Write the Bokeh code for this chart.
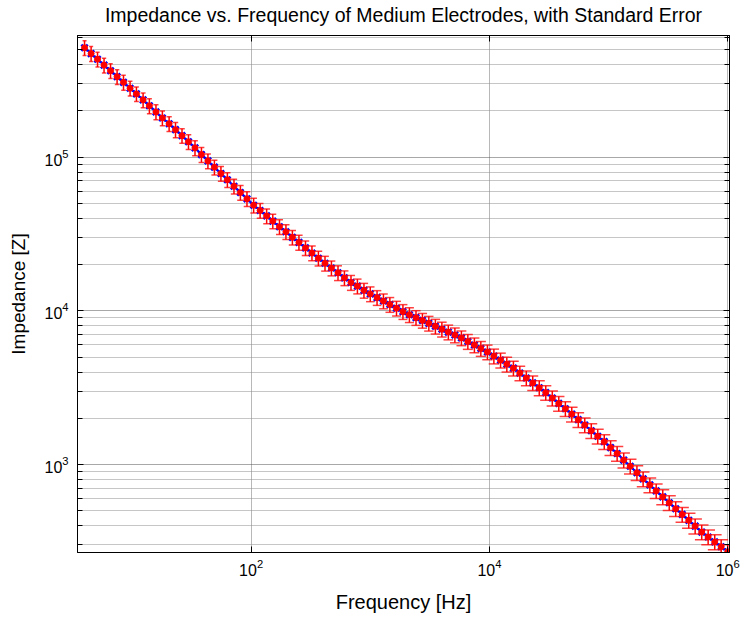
import numpy as np
from bokeh.plotting import figure
from bokeh.models import (FixedTicker, LogAxis, Range1d, ColumnDataSource,
                          CustomJSTickFormatter)
from bokeh.embed import file_html
from bokeh.resources import INLINE

# ---- data ----
freq_hz = [4.00, 4.54, 5.14, 5.83, 6.61, 7.50, 8.49, 9.64, 10.9, 12.4,
           14.0, 15.9, 18.0, 20.5, 23.2, 26.3, 29.8, 33.8, 38.3, 43.4,
           49.2, 55.8, 63.2, 71.8, 81.3, 92.3, 105, 119, 135, 152,
           173, 196, 222, 252, 286, 324, 367, 417, 472, 536,
           607, 689, 780, 885, 1000, 1140, 1290, 1460, 1660, 1880,
           2130, 2420, 2740, 3100, 3520, 3990, 4520, 5130, 5820, 6590,
           7480, 8470, 9620, 10900, 12400, 14000, 15900, 18000, 20400, 23100,
           26200, 29700, 33700, 38200, 43400, 49100, 55700, 63100, 71600, 81100,
           92000, 104000, 118000, 134000, 152000, 173000, 195000, 222000, 251000, 285000,
           323000, 366000, 415000, 471000, 533000, 605000, 685000, 778000, 881000, 1000000]

impedance = [515000, 472000, 434000, 397000, 365000, 334000, 307000, 281000, 258000, 236000,
             216000, 197000, 180000, 165000, 151000, 138000, 126000, 115000, 104000, 94600,
             86100, 78300, 71300, 64700, 58900, 53600, 48700, 45000, 41500, 38400,
             35300, 32700, 30100, 27900, 25700, 23800, 22000, 20400, 19000, 17700,
             16400, 15300, 14500, 13600, 12900, 12200, 11600, 11000, 10400, 9890,
             9440, 9040, 8670, 8300, 7940, 7600, 7280, 6970, 6670, 6320,
             6000, 5690, 5400, 5080, 4780, 4500, 4240, 3940, 3660, 3400,
             3160, 2940, 2710, 2500, 2310, 2130, 1960, 1810, 1660, 1530,
             1410, 1290, 1180, 1070, 975, 885, 807, 738, 675, 617,
             565, 516, 474, 434, 398, 364, 338, 314, 292, 271]

std_err = [57000, 52000, 48000, 44000, 40000, 37000, 34000, 31000, 28000, 26000,
           24000, 22000, 20000, 18000, 17000, 15000, 14000, 12700, 11500, 10400,
           9500, 8600, 7800, 7100, 6500, 5900, 5400, 5000, 4600, 4200,
           3900, 3600, 3300, 3100, 2800, 2600, 2400, 2250, 2100, 1950,
           1800, 1700, 1600, 1500, 1420, 1340, 1280, 1210, 1140, 1090,
           1040, 990, 950, 910, 870, 840, 800, 770, 730, 700,
           660, 630, 590, 560, 530, 500, 470, 430, 400, 370,
           350, 320, 300, 275, 254, 234, 216, 199, 183, 168,
           155, 142, 130, 118, 107, 97, 89, 81, 74, 68,
           62, 57, 52, 48, 44, 40, 37, 35, 32, 30]

x_major_ticks = [1e0, 1e2, 1e4, 1e6]
y_major_ticks = [1e2, 1e3, 1e4, 1e5, 1e6]
y_minor_ticks = [m * 10.0 ** e for e in range(2, 6) for m in range(2, 10)]

title_text = "Impedance vs. Frequency of Medium Electrodes, with Standard Error"
x_label = "Frequency [Hz]"
y_label = "Impedance [Z]"

# ---- derived drawing columns ----
f = np.array(freq_hz, dtype=float)
z = np.array(impedance, dtype=float)
e = np.array(std_err, dtype=float)
lf = np.log10(f)
cap_px = 2.0 + 5.0 * (lf - lf.min()) / (lf.max() - lf.min())   # cap half width in px
cap_dec = cap_px / 119.2                                          # px -> decades
src = ColumnDataSource(dict(f=f, z=z, lo=z - e, hi=z + e,
                            cl=f * 10 ** (-cap_dec), cr=f * 10 ** cap_dec))

FONT = "Liberation Sans"

p = figure(width=743, height=617, x_axis_type="log", y_axis_type="log",
           x_range=Range1d(3.49, 1.035e6), y_range=Range1d(268, 619000),
           output_backend="svg", toolbar_location=None,
           min_border_left=77, min_border_right=14, min_border_top=35,
           min_border_bottom=65)
p.background_fill_color = "white"
p.border_fill_color = "white"
p.outline_line_color = "black"
p.outline_line_width = 1

xt = FixedTicker(ticks=x_major_ticks, minor_ticks=[])
yt = FixedTicker(ticks=y_major_ticks, minor_ticks=y_minor_ticks)

for ax, tk in ((p.xaxis[0], xt), (p.yaxis[0], yt)):
    ax.ticker = tk
    ax.major_tick_in = 6
    ax.major_tick_out = 0
    ax.minor_tick_in = 5
    ax.minor_tick_out = 0
    ax.axis_line_color = "black"
    ax.major_tick_line_color = "black"
    ax.minor_tick_line_color = "black"
    ax.major_label_text_font = FONT
    ax.major_label_text_font_size = "16px"
    ax.major_label_text_color = "black"
    ax.axis_label_text_font = FONT
    ax.axis_label_text_font_style = "normal"
    ax.axis_label_text_color = "black"

p.xaxis[0].axis_label = x_label
p.xaxis[0].axis_label_text_font_size = "20px"
p.xaxis[0].major_label_standoff = 6
p.xaxis[0].axis_label_standoff = 12
p.yaxis[0].axis_label = y_label
p.yaxis[0].axis_label_text_font_size = "19px"
p.yaxis[0].major_label_standoff = 9
p.yaxis[0].axis_label_standoff = 12

blank = CustomJSTickFormatter(code="return ''")
# top axis: box ticks, and carries the chart title as its axis label
top_ax = LogAxis(ticker=FixedTicker(ticks=x_major_ticks, minor_ticks=[]), formatter=blank,
                 major_tick_in=6, major_tick_out=0, minor_tick_in=0, minor_tick_out=0,
                 major_label_standoff=0, major_label_text_font_size="1px",
                 axis_label=title_text, axis_label_standoff=10,
                 axis_label_text_font=FONT, axis_label_text_font_size="19.5px",
                 axis_label_text_font_style="normal", axis_label_text_color="black")
right_ax = LogAxis(ticker=FixedTicker(ticks=y_major_ticks, minor_ticks=y_minor_ticks),
                   formatter=blank, major_tick_in=6, major_tick_out=0,
                   minor_tick_in=5, minor_tick_out=0,
                   major_label_standoff=0, major_label_text_font_size="1px")
p.add_layout(top_ax, "above")
p.add_layout(right_ax, "right")

p.xgrid.ticker = xt
p.ygrid.ticker = yt
p.xgrid.grid_line_color = "#707070"
p.xgrid.grid_line_dash = "1 1"
p.ygrid.grid_line_color = "#505050"
p.ygrid.grid_line_dash = "1 1"
p.ygrid.minor_grid_line_color = "#8c8c8c"
p.ygrid.minor_grid_line_dash = "1 1"

# blue line with x markers
p.line("f", "z", source=src, line_color="blue", line_width=1.5)
p.scatter("f", "z", source=src, marker="x", size=9, line_color="blue", line_width=2.5)
# red error bars
p.segment("f", "lo", "f", "hi", source=src, line_color="red", line_width=1.5)
p.segment("cl", "hi", "cr", "hi", source=src, line_color="red", line_width=1.5, line_alpha=0.75)
p.segment("cl", "lo", "cr", "lo", source=src, line_color="red", line_width=1.5, line_alpha=0.75)
p.scatter("f", "z", source=src, marker="circle", size=6, fill_color="red", line_color="red")

open("out.html", "w").write(file_html(p, INLINE))
